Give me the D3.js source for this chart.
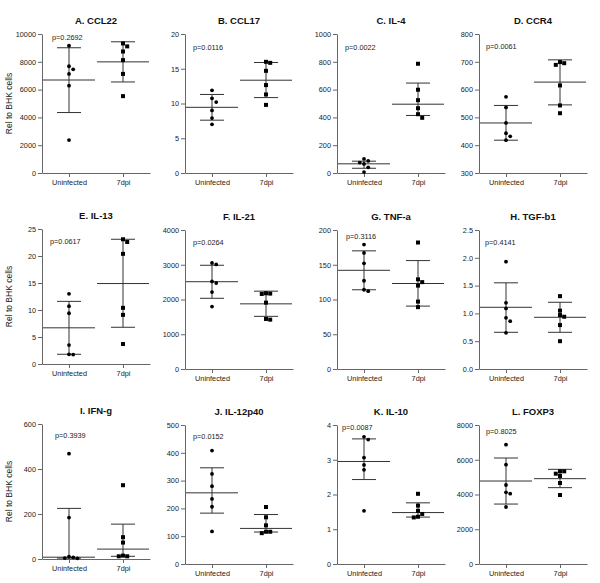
<!DOCTYPE html>
<html>
<head>
<meta charset="utf-8">
<script src="https://cdn.jsdelivr.net/npm/d3@7"></script>
<style>
  body { margin: 0; background: #fff; }
  text { font-family: "Liberation Sans", Arial, sans-serif; }
</style>
</head>
<body>
<div id="chart"></div>
<script>
// Panel data
const titles = ["A. CCL22", "B. CCL17", "C. IL-4", "D. CCR4", "E. IL-13", "F. IL-21",
  "G. TNF-a", "H. TGF-b1", "I. IFN-g", "J. IL-12p40", "K. IL-10", "L. FOXP3"];
const pValues = ["p=0.2692", "p=0.0116", "p=0.0022", "p=0.0061", "p=0.0617", "p=0.0264",
  "p=0.3116", "p=0.4141", "p=0.3939", "p=0.0152", "p=0.0087", "p=0.8025"];
const groups = ["Uninfected", "7dpi"];

const yMin = [0, 0, 0, 300, 0, 0, 0, 0, 0, 0, 0, 0];
const yMax = [10000, 20, 1000, 800, 25, 4000, 200, 2.5, 600, 500, 4, 8000];
const yStep = [2000, 5, 200, 100, 5, 1000, 50, 0.5, 200, 100, 1, 2000];

const uninfected = [
  [9155, 7680, 7460, 7130, 6280, 2370],
  [11.9, 10.75, 10.2, 9.0, 7.9, 7.0],
  [101, 87, 75, 65, 41, 7],
  [574, 536, 480, 443, 432, 418],
  [13.0, 10.7, 9.4, 3.5, 1.8, 1.75],
  [3050, 3010, 2520, 2475, 2215, 1795],
  [179, 167, 152, 127, 114, 112],
  [1.93, 1.19, 1.09, 0.92, 0.86, 0.65],
  [468, 184, 10, 7, 4, 3],
  [408, 324, 280, 234, 206, 117],
  [3.66, 3.58, 3.06, 2.85, 2.71, 1.53],
  [6867, 5716, 4546, 4124, 4048, 3280]
];
const dpi7 = [
  [9320, 9110, 8740, 8120, 7130, 5530],
  [16.0, 15.85, 14.7, 12.65, 11.3, 9.8],
  [786, 599, 524, 466, 423, 397],
  [699, 695, 689, 615, 543, 515],
  [23.1, 22.6, 20.4, 10.4, 9.1, 3.7],
  [2180, 2170, 2160, 1910, 1440, 1420],
  [182, 129, 125, 120, 97, 89],
  [1.31, 1.05, 0.97, 0.94, 0.79, 0.50],
  [328, 97, 73, 15, 12, 12],
  [205, 168, 139, 116, 116, 111],
  [2.02, 1.68, 1.53, 1.44, 1.36, 1.34],
  [5333, 5333, 5198, 5064, 4662, 3971]
];

// centre line and error bar ends, as drawn
const uninfCenter = [6690, 9.45, 66, 480, 6.7, 2512, 142, 1.11, 8, 256, 2.95, 4776];
const uninfLow    = [4350, 7.6, 34, 418, 1.8, 2035, 114, 0.66, 4, 183, 2.43, 3450];
const uninfHigh   = [9010, 11.3, 85, 543, 11.6, 2985, 170, 1.55, 225, 346, 3.6, 6100];
const dpiCenter   = [7995, 13.35, 495, 627, 14.9, 1875, 123, 0.93, 44, 128, 1.48, 4911];
const dpiLow      = [6550, 10.85, 414, 545, 6.8, 1515, 90.5, 0.66, 12, 115, 1.35, 4393];
const dpiHigh     = [9440, 15.9, 647, 707, 23.1, 2240, 156, 1.2, 155, 178, 1.76, 5448];

// Layout
const width = 600, height = 583;
const colLeft = [42, 185, 337, 479];
const rowTop = [34, 230, 425];
const plotW = 108;
// where each p-value label sits inside its plot
const pLabelX = [10, 8, 8, 7, 8, 8, 9, 6, 13, 8, 5, 7];
const pLabelY = [6, 16, 16, 15, 15, 15, 9, 15, 14, 14, 5, 9];

const svg = d3.select("#chart").append("svg")
  .attr("width", width)
  .attr("height", height);

const axisColor = "#666";
const lineColor = "#333";

// spread overlapping points sideways (scatter-plot style)
function swarm(vals, y) {
  const placed = [];
  const out = new Array(vals.length);
  const order = vals.map((v, i) => i).sort((a, b) => vals[b] - vals[a]);
  order.forEach(i => {
    const py = y(vals[i]);
    for (const s of [0, 1, -1, 2, -2, 3, -3]) {
      if (!placed.some(p => p.s === s && Math.abs(p.py - py) < 4)) {
        placed.push({ s, py });
        out[i] = { py, s };
        break;
      }
    }
  });
  return out;
}

titles.forEach((title, k) => {
  const row = Math.floor(k / 4), col = k % 4;
  let top = rowTop[row], plotH = 139;
  if (col === 0 && row > 0) { top -= 1; plotH = 135; }

  const g = svg.append("g").attr("transform", `translate(${colLeft[col]},${top})`);

  const x = d3.scalePoint().domain(groups).range([0, plotW]).padding(0.5);
  const y = d3.scaleLinear().domain([yMin[k], yMax[k]]).range([plotH, 0]);

  const ticks = d3.range(yMin[k], yMax[k] + yStep[k] / 2, yStep[k]);
  const fmt = yStep[k] < 1 ? d3.format(".1f") : d3.format("d");

  const yAxis = g.append("g")
    .call(d3.axisLeft(y).tickValues(ticks).tickFormat(fmt).tickSize(4).tickSizeOuter(0).tickPadding(2));
  const xAxis = g.append("g")
    .attr("transform", `translate(0,${plotH})`)
    .call(d3.axisBottom(x).tickSize(4).tickSizeOuter(0).tickPadding(3));

  [yAxis, xAxis].forEach(a => {
    a.selectAll("path, line").attr("stroke", axisColor).attr("stroke-width", 1);
    a.selectAll("text").attr("fill", "#222").style("font-size", "7.3px");
  });

  // title
  g.append("text")
    .attr("x", plotW / 2)
    .attr("y", -10)
    .attr("text-anchor", "middle")
    .style("font-size", "9.5px")
    .style("font-weight", "bold")
    .attr("fill", "#111")
    .text(title);

  // p value
  g.append("text")
    .attr("x", pLabelX[k])
    .attr("y", pLabelY[k])
    .style("font-size", "7.3px")
    .attr("fill", "#222")
    .text(pValues[k]);

  // centre line and error bars
  const stats = [
    { grp: groups[0], c: uninfCenter[k], lo: uninfLow[k], hi: uninfHigh[k] },
    { grp: groups[1], c: dpiCenter[k], lo: dpiLow[k], hi: dpiHigh[k] }
  ];
  stats.forEach(s => {
    const cx = x(s.grp);
    g.append("line")
      .attr("x1", cx).attr("x2", cx)
      .attr("y1", y(s.lo)).attr("y2", y(s.hi))
      .attr("stroke", lineColor).attr("stroke-width", 1);
    [s.lo, s.hi].forEach(v => {
      g.append("line")
        .attr("x1", cx - 12).attr("x2", cx + 12)
        .attr("y1", y(v)).attr("y2", y(v))
        .attr("stroke", lineColor).attr("stroke-width", 1);
    });
    g.append("line")
      .attr("x1", cx - 26).attr("x2", cx + 26)
      .attr("y1", y(s.c)).attr("y2", y(s.c))
      .attr("stroke", lineColor).attr("stroke-width", 1);
  });

  // uninfected: circles
  const u = swarm(uninfected[k], y);
  g.selectAll(".dot-u")
    .data(u)
    .join("circle")
    .attr("class", "dot-u")
    .attr("cx", d => x(groups[0]) + d.s * 4.2)
    .attr("cy", d => d.py)
    .attr("r", 1.9)
    .attr("fill", "#000");

  // 7dpi: squares
  const v = swarm(dpi7[k], y);
  g.selectAll(".dot-d")
    .data(v)
    .join("rect")
    .attr("class", "dot-d")
    .attr("x", d => x(groups[1]) + d.s * 4.2 - 2)
    .attr("y", d => d.py - 2)
    .attr("width", 4)
    .attr("height", 4)
    .attr("fill", "#000");

  // y label on first column
  if (col === 0) {
    g.append("text")
      .attr("transform", `translate(${-colLeft[0] + 12},${plotH / 2}) rotate(-90)`)
      .attr("text-anchor", "middle")
      .style("font-size", "8.5px")
      .attr("fill", "#222")
      .text("Rel to BHK cells");
  }
});
</script>
</body>
</html>
